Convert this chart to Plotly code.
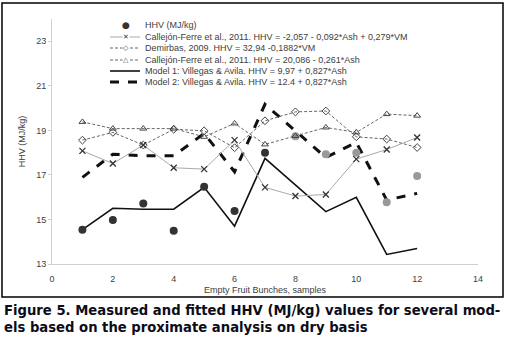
import plotly.graph_objects as go

samples = [1, 2, 3, 4, 5, 6, 7, 8, 9, 10, 11, 12]
hhv_measured = [14.54, 14.97, 15.72, 14.49, 16.47, 15.38, 18.0, 18.74, 17.93, 18.0, 15.77, 16.95]
hhv_colors = ["#333333"] * 7 + ["#999999"] * 5
callejon_vm = [18.08, 17.51, 18.34, 17.32, 17.26, 18.56, 16.44, 16.05, 16.12, 17.71, 18.14, 18.68]
demirbas = [18.56, 18.91, 18.34, 19.05, 18.98, 18.22, 19.43, 19.83, 19.87, 18.71, 18.61, 18.23]
callejon_ash = [19.38, 19.08, 19.08, 19.08, 18.71, 19.31, 18.37, 18.75, 19.13, 18.91, 19.73, 19.66]
model1 = [14.54, 15.50, 15.46, 15.46, 16.44, 14.70, 17.74, 16.54, 15.35, 15.99, 13.43, 13.70]
model2 = [16.89, 17.93, 17.86, 17.86, 18.86, 17.14, 20.17, 18.98, 17.78, 18.46, 15.87, 16.17]

names = [
    "HHV (MJ/kg)",
    "Callejón-Ferre et al., 2011. HHV = -2,057 - 0,092*Ash + 0,279*VM",
    "Demirbas, 2009. HHV = 32,94 -0,1882*VM",
    "Callejón-Ferre et al., 2011. HHV = 20,086 - 0,261*Ash",
    "Model 1: Villegas & Avila. HHV = 9,97 + 0,827*Ash",
    "Model 2: Villegas & Avila. HHV = 12.4 + 0,827*Ash",
]
x_ticks = [0, 2, 4, 6, 8, 10, 12, 14]
y_ticks = [13, 15, 17, 19, 21, 23]

# styles per series
line_styles = [
    None,
    dict(color="#aaaaaa", width=1, dash="solid"),
    dict(color="#666666", width=1, dash="3px,2px"),
    dict(color="#666666", width=1, dash="3px,2px"),
    dict(color="#111111", width=1.6, dash="solid"),
    dict(color="#111111", width=3, dash="dash"),
]
key_glyphs = ["●", "✕", "◇", "△", "", ""]
key_glyph_colors = ["#333333", "#333333", "#444444", "#444444", "", ""]

fig = go.Figure()
fig.add_trace(go.Scatter(x=samples, y=model1, mode="lines", name=names[4], line=line_styles[4]))
fig.add_trace(go.Scatter(x=samples, y=model2, mode="lines", name=names[5], line=line_styles[5]))
fig.add_trace(go.Scatter(x=samples, y=hhv_measured, mode="markers", name=names[0],
                         marker=dict(color=hhv_colors, size=8)))
fig.add_trace(go.Scatter(x=samples, y=callejon_vm, mode="lines+markers", name=names[1],
                         line=line_styles[1],
                         marker=dict(symbol="x-thin", size=6, color="#333333",
                                     line=dict(color="#333333", width=1.3))))
fig.add_trace(go.Scatter(x=samples, y=demirbas, mode="lines+markers", name=names[2],
                         line=line_styles[2],
                         marker=dict(symbol="diamond-open", size=6, color="#444444",
                                     line=dict(width=1))))
fig.add_trace(go.Scatter(x=samples, y=callejon_ash, mode="lines+markers", name=names[3],
                         line=line_styles[3],
                         marker=dict(symbol="triangle-up-open", size=6, color="#444444",
                                     line=dict(width=1))))

fig.update_layout(
    width=508, height=339,
    margin=dict(l=52, r=30, t=19, b=75),
    paper_bgcolor="white", plot_bgcolor="white",
    showlegend=False,
    font=dict(family="Liberation Sans, Arial, sans-serif", size=9, color="#404040"),
    xaxis=dict(range=[0, 14], tickvals=x_ticks, showgrid=False, zeroline=False,
               showline=True, linecolor="#d0d0d0", ticks="outside", ticklen=6,
               tickcolor="rgba(0,0,0,0)", automargin=False,
               title=dict(text="Empty Fruit Bunches, samples", standoff=3,
                          font=dict(size=9, color="#404040"))),
    yaxis=dict(range=[13, 24], tickvals=y_ticks, showgrid=False, zeroline=False,
               showline=True, linecolor="#d0d0d0", ticks="outside", ticklen=3,
               tickcolor="#d0d0d0", automargin=False,
               title=dict(text="HHV (MJ/kg)", standoff=9,
                          font=dict(size=9, color="#404040"))),
)

# compact legend (Excel style), positioned in paper coordinates
def px_x(p):
    return (p - 52) / 426.0

def px_y(p):
    return (264 - p) / 245.0

row_px = [25, 37, 48, 60, 71, 82]
for i, nm in enumerate(names):
    yy = px_y(row_px[i])
    if line_styles[i] is not None:
        st = line_styles[i]
        fig.add_shape(type="line", xref="paper", yref="paper",
                      x0=px_x(110), x1=px_x(140), y0=yy, y1=yy,
                      line=dict(color=st["color"], width=st["width"], dash=st["dash"]))
    if key_glyphs[i]:
        fig.add_annotation(xref="paper", yref="paper", x=px_x(126), y=yy,
                           xanchor="center", yanchor="middle", showarrow=False,
                           text=key_glyphs[i], bgcolor="white" if i > 0 else None,
                           borderpad=0,
                           font=dict(family="DejaVu Sans", size=7 if i > 0 else 9,
                                     color=key_glyph_colors[i]))
    fig.add_annotation(xref="paper", yref="paper", x=px_x(143), y=yy,
                       xanchor="left", yanchor="middle", showarrow=False,
                       text=nm, font=dict(size=9, color="#404040"))

fig.add_shape(type="rect", xref="paper", yref="paper",
              x0=-0.1174, x1=1.0587, y0=-0.1347, y1=1.0653,
              line=dict(color="black", width=1.5))
fig.add_annotation(xref="paper", yref="paper", x=-0.118, y=-0.150,
                   xanchor="left", yanchor="top", align="left", showarrow=False,
                   text="<b>Figure 5. Measured and fitted HHV (MJ/kg) values for several mod-<br>els based on the proximate analysis on dry basis</b>",
                   font=dict(family="DejaVu Sans, sans-serif", size=13.2, color="#0d0d1a"))

fig.write_html("out.html", config={"displayModeBar": False},
               post_script="document.body.style.margin='0';document.body.style.overflow='hidden';")
